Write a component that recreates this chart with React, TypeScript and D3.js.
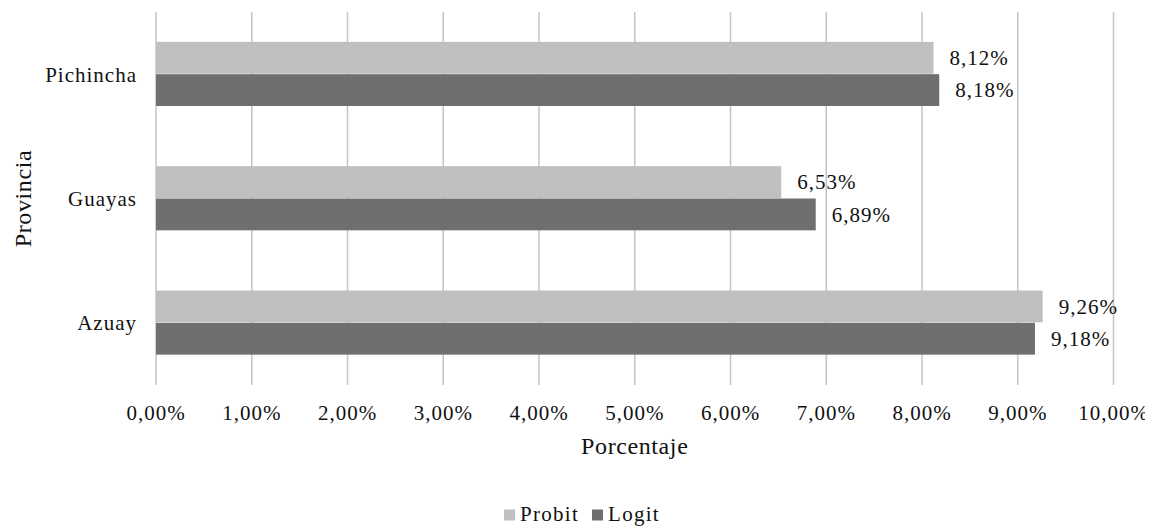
import React from "react";
import * as d3 from "d3";

// Provinces, top to bottom
const provinces = ["Pichincha", "Guayas", "Azuay"];
// Series values (percent)
const probit = [8.12, 6.53, 9.26];
const logit = [8.18, 6.89, 9.18];
const seriesNames = ["Probit", "Logit"];
const seriesColors = ["#bfbfbf", "#6f6f6f"];
const xTicks = [0, 1, 2, 3, 4, 5, 6, 7, 8, 9, 10];

const W = 1153;
const H = 531;
const margin = { left: 156, right: 40, top: 12, bottom: 146 };
const FS = 21;

const fmt = (v: number) => v.toFixed(2).replace(".", ",") + "%";

function Label(props: any) {
  const { children, ...rest } = props;
  return (
    <text
      fill="#111"
      fontFamily="Liberation Serif"
      style={{ fontFamily: "Liberation Serif" }}
      letterSpacing={1}
      {...rest}
    >
      {children}
    </text>
  );
}

export default function App() {
  const x = d3
    .scaleLinear()
    .domain([0, 10])
    .range([margin.left, margin.left + 957.5]);
  const y = d3
    .scaleBand<string>()
    .domain(provinces)
    .range([margin.top, H - margin.bottom])
    .paddingInner(0.48)
    .paddingOuter(0.24);
  const sub = d3
    .scaleBand<string>()
    .domain(seriesNames)
    .range([0, y.bandwidth()]);

  const series = [probit, logit];
  const plotBottom = H - margin.bottom;

  return (
    <svg
      width={W}
      height={H}
      style={{ display: "block", margin: "-8px 0 0 -8px", fontFamily: "Liberation Serif" }}
    >
      <rect width={W} height={H} fill="#fff" />
      {/* vertical gridlines */}
      {xTicks.map((t) => (
        <line
          key={t}
          x1={x(t)}
          x2={x(t)}
          y1={margin.top}
          y2={plotBottom}
          stroke="#c4c4c4"
          strokeWidth={1.5}
        />
      ))}
      {/* bars */}
      {provinces.map((p, i) =>
        series.map((s, k) => {
          const y0 = (y(p) ?? 0) + (sub(seriesNames[k]) ?? 0);
          const v = s[i];
          return (
            <g key={p + k}>
              <rect
                x={x(0)}
                y={y0}
                width={x(v) - x(0)}
                height={sub.bandwidth() - 0.5}
                fill={seriesColors[k]}
              />
              <Label x={x(v) + 16} y={y0 + sub.bandwidth() / 2 + 7} fontSize={FS}>
                {fmt(v)}
              </Label>
            </g>
          );
        })
      )}
      {/* category labels */}
      {provinces.map((p) => (
        <Label
          key={p}
          x={137}
          y={(y(p) ?? 0) + y.bandwidth() / 2 + 7.5}
          textAnchor="end"
          fontSize={FS}
        >
          {p}
        </Label>
      ))}
      {/* x tick labels */}
      {xTicks.map((t) => (
        <Label key={t} x={x(t)} y={420} textAnchor="middle" fontSize={FS}>
          {fmt(t)}
        </Label>
      ))}
      {/* axis titles */}
      <Label x={x(5)} y={454} textAnchor="middle" fontSize={24} letterSpacing={0.6}>
        Porcentaje
      </Label>
      <Label
        transform={`translate(31,${(margin.top + plotBottom) / 2}) rotate(-90)`}
        textAnchor="middle"
        fontSize={24}
        letterSpacing={0.6}
      >
        Provincia
      </Label>
      {/* legend */}
      {seriesNames.map((n, k) => {
        const lx = [504, 592][k];
        return (
          <g key={n}>
            <rect x={lx} y={509.5} width={11} height={11} fill={seriesColors[k]} />
            <Label x={lx + 16} y={520.5} fontSize={FS} letterSpacing={1.3}>
              {n}
            </Label>
          </g>
        );
      })}
    </svg>
  );
}
